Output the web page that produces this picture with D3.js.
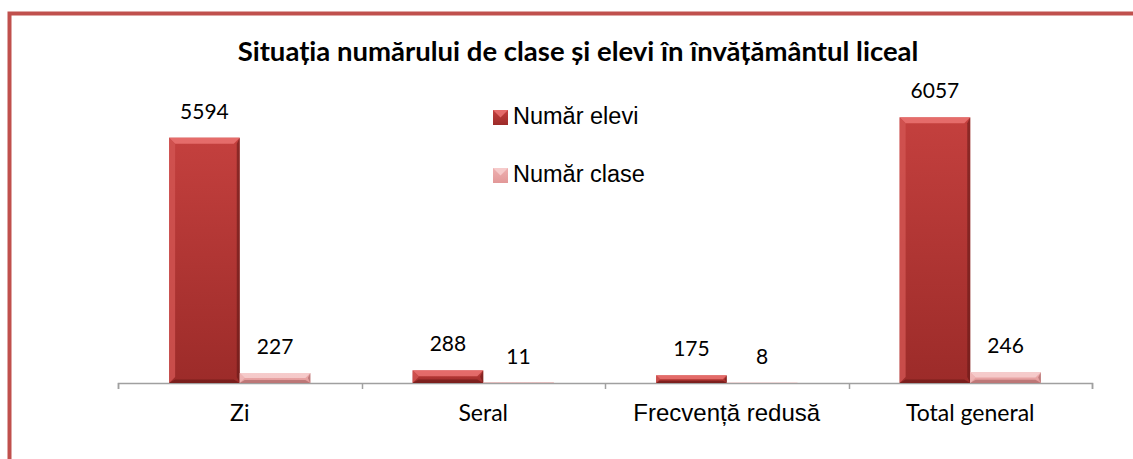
<!DOCTYPE html>
<html>
<head>
<meta charset="utf-8">
<script src="https://cdn.jsdelivr.net/npm/d3@7"></script>
<style>
  html, body { margin: 0; padding: 0; background: #fff; overflow: hidden; }
  svg { display: block; }
</style>
</head>
<body>
<div id="container"></div>
<script>
const width = 1133
const height = 459

// data
const categories = ['Zi', 'Seral', 'Frecvență redusă', 'Total general']
const seriesNames = ['Număr elevi', 'Număr clase']
const elevi = [5594, 288, 175, 6057]
const clase = [227, 11, 8, 246]

const svg = d3.select('#container')
  .append('svg')
  .attr('width', width)
  .attr('height', height)

const defs = svg.append('defs')

const palette = [
  { top: '#c4403e', bottom: '#9c2b29', light: '#ee7775', side: '#d25553', dark: '#5e1614' },
  { top: '#eeb0b0', bottom: '#e29898', light: '#f8d2d2', side: '#f0b9b9', dark: '#9c5a5a' }
]

palette.forEach((p, i) => {
  const g = defs.append('linearGradient')
    .attr('id', 'grad' + i)
    .attr('x1', 0).attr('y1', 0).attr('x2', 0).attr('y2', 1)
  g.append('stop').attr('offset', '0%').attr('stop-color', p.top)
  g.append('stop').attr('offset', '100%').attr('stop-color', p.bottom)
})

// outer frame, open to the right and bottom
svg.append('path')
  .attr('d', `M9.5,${height} V13.5 H${width}`)
  .attr('fill', 'none')
  .attr('stroke', '#c0504d')
  .attr('stroke-width', 4)

svg.append('text')
  .attr('x', 578)
  .attr('y', 61)
  .attr('text-anchor', 'middle')
  .style('font-family', 'Lato, "Open Sans", sans-serif')
  .style('font-weight', 'bold')
  .style('font-size', '27.5px')
  .text('Situația numărului de clase și elevi în învățământul liceal')

const x0 = d3.scaleBand()
  .domain(categories)
  .range([118, 1092])

const x1 = d3.scaleBand()
  .domain(seriesNames)
  .range([x0.bandwidth() * 0.21, x0.bandwidth() * 0.79])

const y = d3.scaleLinear()
  .domain([0, 7000])
  .range([383, 76])

// axis
const axis = svg.append('g')
  .attr('transform', `translate(0,${y(0)})`)
  .call(d3.axisBottom(x0).tickSize(6).tickFormat(''))
axis.select('.domain').attr('stroke', '#a0a0a0').attr('stroke-width', 1.5)
axis.selectAll('.tick line').remove()

// ticks at band edges
const edges = categories.map(c => x0(c)).concat([x0.range()[1]])
axis.selectAll('.edge')
  .data(edges)
  .enter()
  .append('line')
  .attr('class', 'edge')
  .attr('x1', d => Math.round(d) + 0.5)
  .attr('x2', d => Math.round(d) + 0.5)
  .attr('y1', 0)
  .attr('y2', 6)
  .attr('stroke', '#a0a0a0')
  .attr('stroke-width', 1.5)

const rows = categories.map((c, i) => ({ cat: c, values: [elevi[i], clase[i]] }))

const groups = svg.selectAll('g.cat')
  .data(rows)
  .enter()
  .append('g')
  .attr('class', 'cat')
  .attr('transform', d => `translate(${x0(d.cat)},0)`)

const bars = groups.selectAll('g.bar')
  .data(d => d.values.map((v, k) => ({ name: seriesNames[k], k, v })))
  .enter()
  .append('g')
  .attr('class', 'bar')

function bevel (d) {
  const x = x1(d.name)
  const w = x1.bandwidth()
  const top = y(d.v)
  const h = y(0) - top
  const b = Math.min(6, h / 2, w / 2)
  return { x, w, top, h, b }
}

bars.append('rect')
  .attr('x', d => x1(d.name))
  .attr('y', d => y(d.v))
  .attr('width', x1.bandwidth())
  .attr('height', d => y(0) - y(d.v))
  .attr('fill', d => `url(#grad${d.k})`)

// bevel faces
const faces = [
  { key: 'light', pts: (g) => [[g.x, g.top], [g.x + g.w, g.top], [g.x + g.w - g.b, g.top + g.b], [g.x + g.b, g.top + g.b]] },
  { key: 'side', pts: (g) => [[g.x, g.top], [g.x + g.b, g.top + g.b], [g.x + g.b, g.top + g.h - g.b], [g.x, g.top + g.h]] },
  { key: 'dark', pts: (g) => [[g.x + g.w, g.top], [g.x + g.w, g.top + g.h], [g.x + g.w - g.b * 0.5, g.top + g.h - g.b], [g.x + g.w - g.b * 0.5, g.top + g.b]] },
  { key: 'dark', pts: (g) => [[g.x, g.top + g.h], [g.x + g.w, g.top + g.h], [g.x + g.w - g.b, g.top + g.h - g.b * 0.6], [g.x + g.b, g.top + g.h - g.b * 0.6]] }
]

faces.forEach(f => {
  bars.append('polygon')
    .attr('points', d => f.pts(bevel(d)).map(p => p.join(',')).join(' '))
    .attr('fill', d => palette[d.k][f.key])
    .attr('opacity', f.key === 'dark' ? 0.55 : 0.8)
})

bars.append('text')
  .attr('x', d => x1(d.name) + x1.bandwidth() / 2)
  .attr('y', d => y(d.v) - 19)
  .attr('text-anchor', 'middle')
  .style('font-family', 'Lato, "Open Sans", sans-serif')
  .style('font-size', '21px')
  .text(d => d.v)

// category labels
svg.selectAll('text.cat')
  .data(categories)
  .enter()
  .append('text')
  .attr('class', 'cat')
  .attr('x', d => x0(d) + x0.bandwidth() / 2)
  .attr('y', 421)
  .attr('text-anchor', 'middle')
  .style('font-family', d => d === 'Frecvență redusă' ? '"Liberation Sans", Arial, sans-serif' : 'Lato, "Open Sans", sans-serif')
  .style('font-size', d => d === 'Frecvență redusă' ? '24px' : '23px')
  .text(d => d)

// legend
const legend = svg.selectAll('g.legend')
  .data(seriesNames)
  .enter()
  .append('g')
  .attr('class', 'legend')
  .attr('transform', (d, i) => `translate(493,${110 + i * 58})`)

legend.append('rect')
  .attr('width', 15)
  .attr('height', 15)
  .attr('fill', (d, i) => `url(#grad${i})`)
legend.append('polygon')
  .attr('points', '0,0 15,0 7.5,7.5')
  .attr('fill', (d, i) => palette[i].light)
  .attr('opacity', 0.8)
legend.append('text')
  .attr('x', 20)
  .attr('y', 14)
  .style('font-family', '"Liberation Sans", Arial, sans-serif')
  .style('font-size', '23.5px')
  .text(d => d)
</script>
</body>
</html>
